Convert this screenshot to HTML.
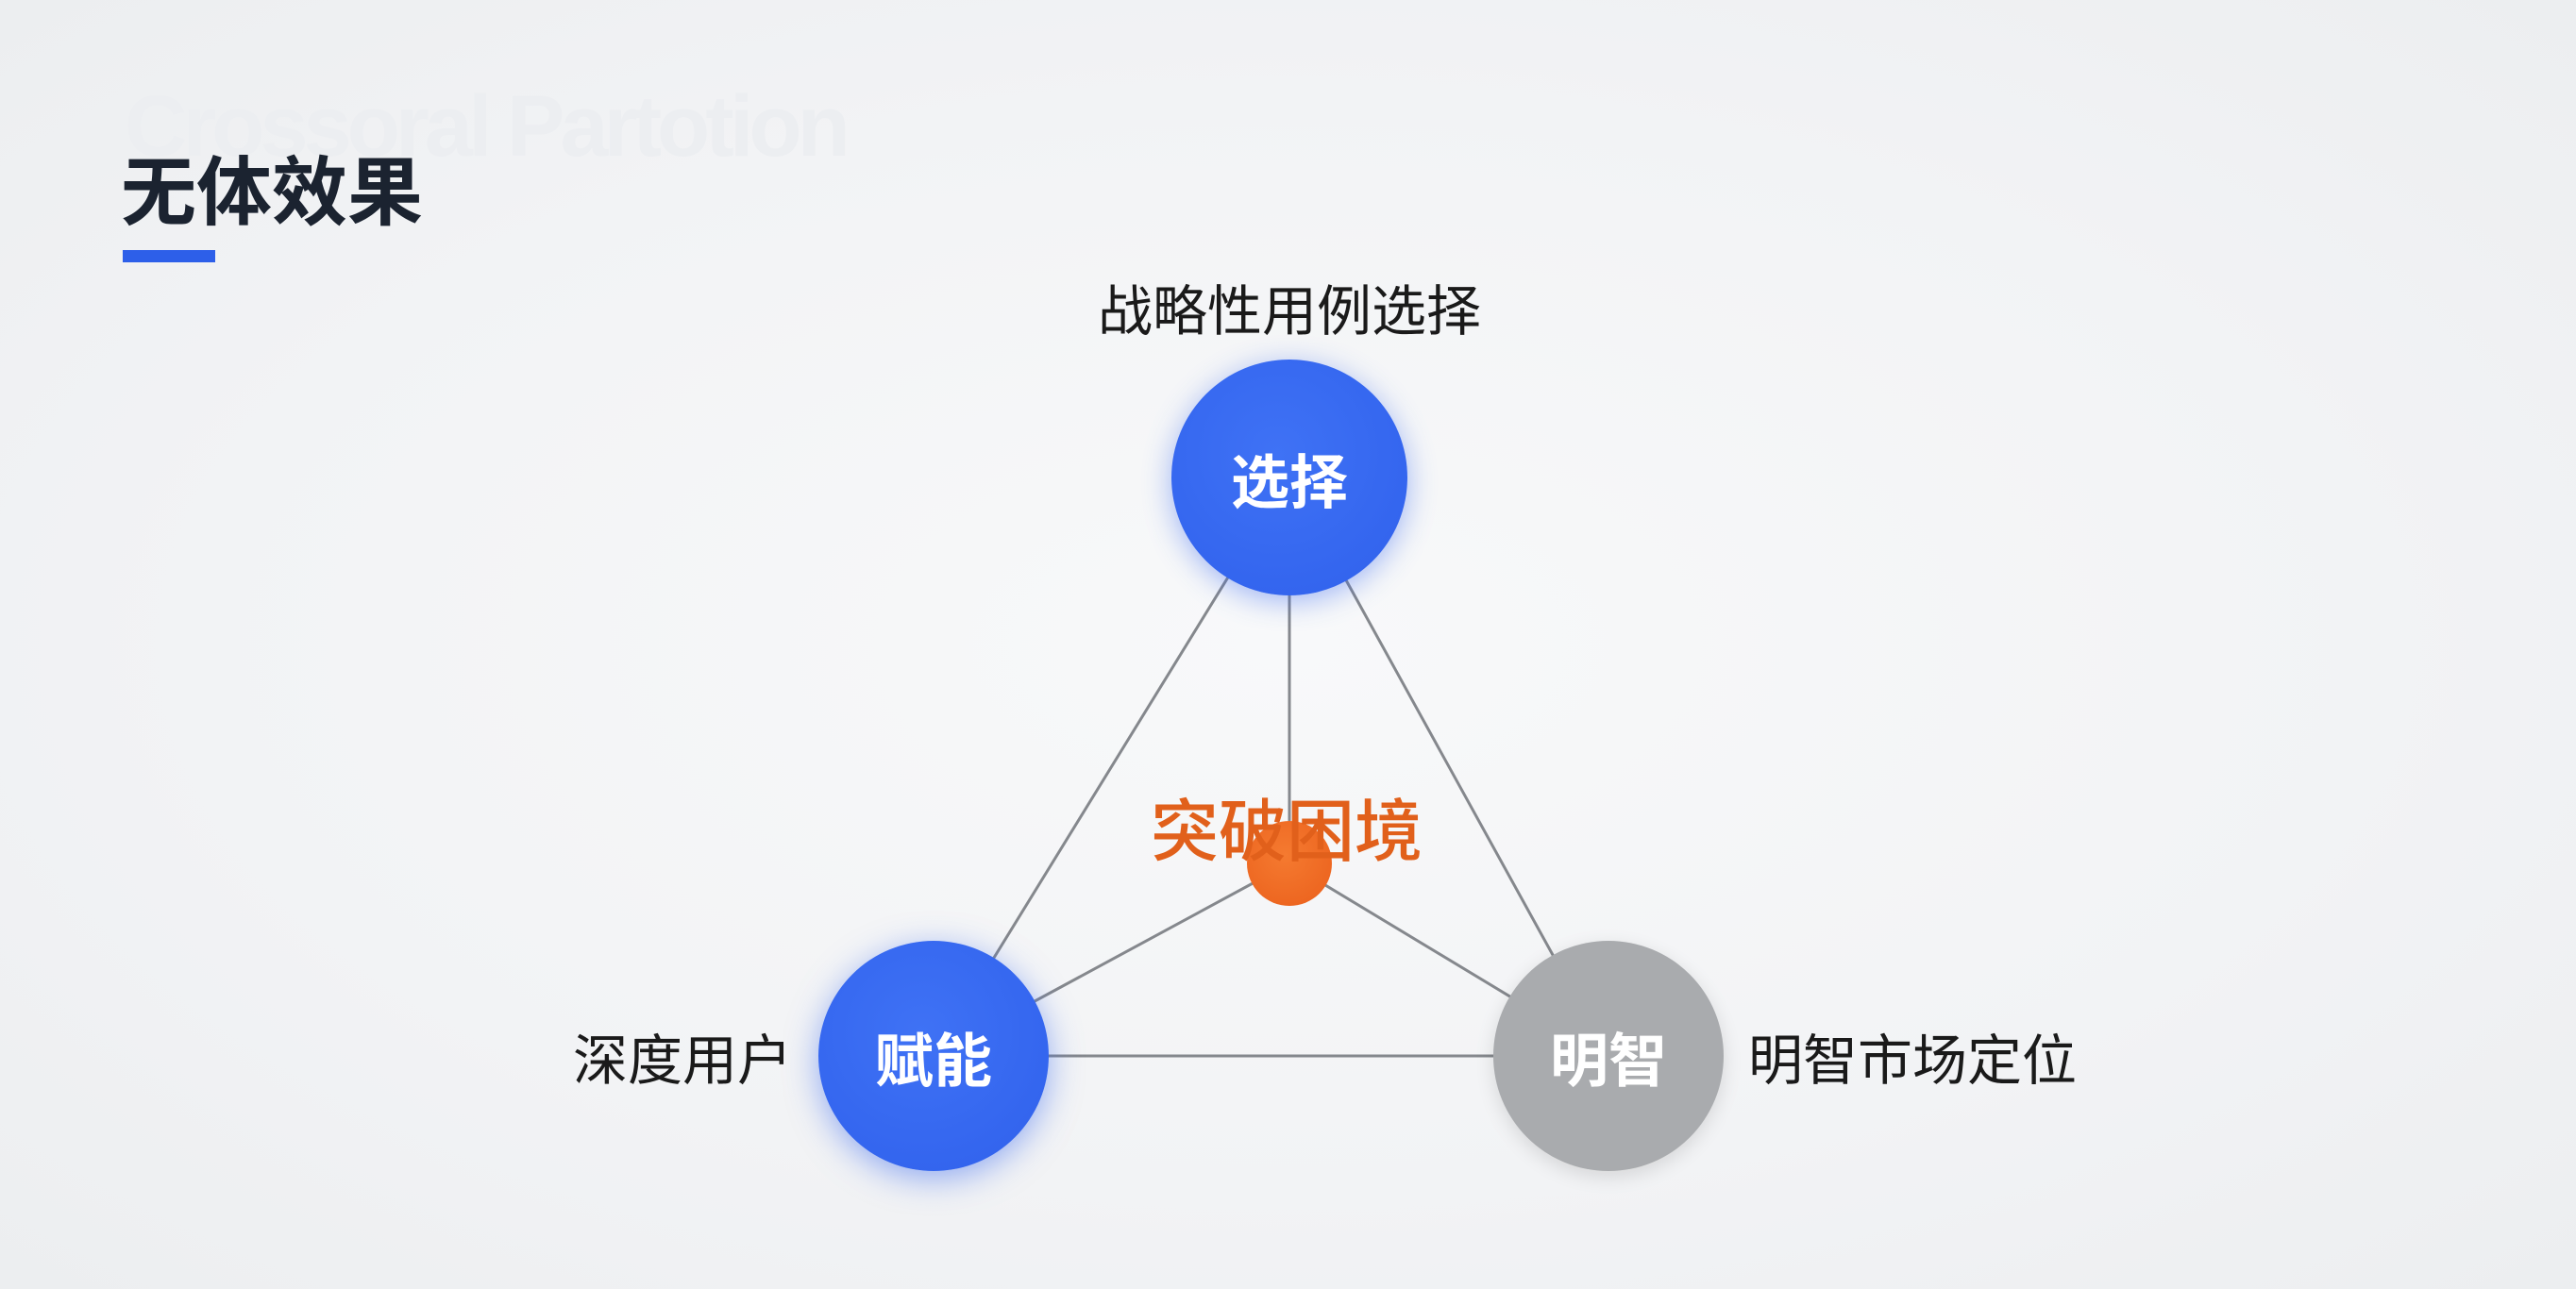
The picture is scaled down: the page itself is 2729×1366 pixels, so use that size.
<!DOCTYPE html>
<html><head><meta charset="utf-8"><style>
html,body{margin:0;padding:0}
body{width:2729px;height:1366px;overflow:hidden;position:relative;background:radial-gradient(ellipse at 50% 50%,#f8f9fa 0%,#f2f3f5 60%,#eceef0 100%);font-family:"Liberation Sans","Noto Sans CJK SC",sans-serif}
.a{position:absolute;white-space:nowrap}
.ghost{left:132px;top:82px;font-size:92px;font-weight:bold;color:#eceef1;letter-spacing:-5px}
.title{left:128px;top:140px;font-size:80px;font-weight:bold;color:#1b2330;font-family:"Noto Sans CJK SC",sans-serif}
.bar{left:130px;top:265px;width:98px;height:13px;background:#2d5fe9}
.c{position:absolute;border-radius:50%;display:flex;align-items:center;justify-content:center;color:#fff;font-weight:bold;font-size:62px;font-family:"Noto Sans CJK SC",sans-serif}
.lab{font-size:58px;color:#1a1a1a;font-family:"Noto Sans CJK SC",sans-serif;transform:translate(-50%,-50%)}
</style></head><body>
<div class="a ghost">Crossoral Partotion</div>
<div class="a title">无体效果</div>
<div class="a bar"></div>
<svg class="a" style="left:0;top:0" width="2729" height="1366">
<g stroke="#85888d" stroke-width="3" fill="none">
<line x1="1366" y1="506" x2="989" y2="1119"/>
<line x1="1366" y1="506" x2="1704" y2="1119"/>
<line x1="1366" y1="506" x2="1366" y2="915"/>
<line x1="1366" y1="915" x2="989" y2="1119"/>
<line x1="1366" y1="915" x2="1704" y2="1119"/>
<line x1="989" y1="1119" x2="1704" y2="1119"/>
</g></svg>
<div class="c" style="left:1241px;top:381px;width:250px;height:250px;background:radial-gradient(circle at 45% 40%,#3f72f5,#2f60ec);box-shadow:0 6px 30px rgba(50,100,240,.45)">选择</div>
<div class="c" style="left:867px;top:997px;width:244px;height:244px;background:radial-gradient(circle at 45% 40%,#3f72f5,#2f60ec);box-shadow:0 8px 34px rgba(50,100,240,.5)">赋能</div>
<div class="c" style="left:1582px;top:997px;width:244px;height:244px;background:#a9abae;box-shadow:0 6px 20px rgba(0,0,0,.12)">明智</div>
<div class="c" style="left:1321px;top:870px;width:90px;height:90px;background:radial-gradient(circle at 45% 40%,#f57a30,#ea5f1b)"></div>
<div class="a lab" style="left:1363px;top:875px;font-size:72px;font-weight:500;color:#e1601b">突破困境</div>
<div class="a lab" style="left:1366px;top:325px">战略性用例选择</div>
<div class="a lab" style="left:723px;top:1119px">深度用户</div>
<div class="a lab" style="left:2026px;top:1119px">明智市场定位</div>
</body></html>
